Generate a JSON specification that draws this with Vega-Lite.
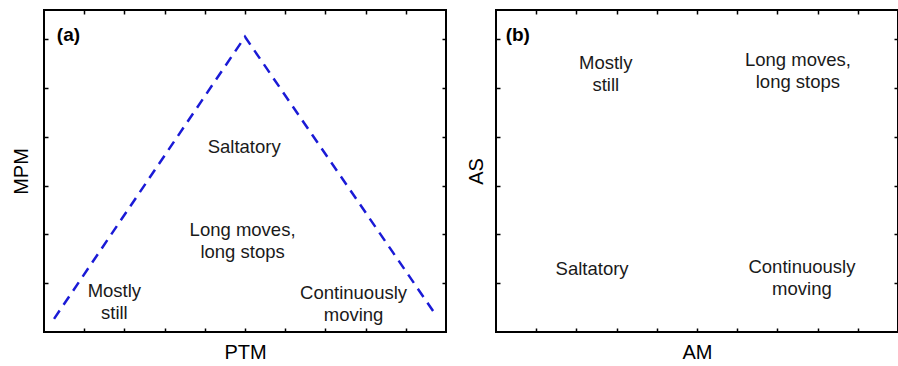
{
  "$schema": "https://vega.github.io/schema/vega-lite/v6.json",
  "padding": {"left": 10, "top": 8, "right": 2, "bottom": 2},
  "background": "white",
  "bounds": "flush",
  "spacing": 50,
  "config": {
    "view": {"stroke": "black", "strokeWidth": 2},
    "axis": {
      "labels": false,
      "domain": false,
      "grid": false,
      "tickSize": -4,
      "tickColor": "black",
      "tickWidth": 1.5,
      "titleFont": "Liberation Sans",
      "titleFontSize": 20,
      "titleFontWeight": "normal",
      "titleColor": "black"
    },
    "text": {"font": "Liberation Sans", "fontSize": 18.5, "lineHeight": 22, "lineBreak": "\n", "color": "#1a1a1a", "align": "center", "baseline": "middle"}
  },
  "datasets": {
    "lineA": [{"x": 0.25, "y": 0.27}, {"x": 5.0, "y": 6.05}, {"x": 9.73, "y": 0.37}],
    "labelsA": [
      {"x": 4.98, "y": 3.79, "t": "Saltatory"},
      {"x": 4.94, "y": 2.09, "t": "Long moves,\nlong stops"},
      {"x": 1.75, "y": 0.85, "t": "Mostly\nstill"},
      {"x": 7.70, "y": 0.80, "t": "Continuously\nmoving"}
    ],
    "tagA": [{"x": 0.32, "y": 6.09, "t": "(a)"}],
    "labelsB": [
      {"x": 2.73, "y": 5.52, "t": "Mostly\nstill"},
      {"x": 7.51, "y": 5.57, "t": "Long moves,\nlong stops"},
      {"x": 2.39, "y": 1.29, "t": "Saltatory"},
      {"x": 7.61, "y": 1.34, "t": "Continuously\nmoving"}
    ],
    "tagB": [{"x": 0.24, "y": 6.09, "t": "(b)"}]
  },
  "hconcat": [
    {
      "width": 402,
      "height": 322,
      "layer": [
        {
          "data": {"name": "lineA"},
          "mark": {"type": "line", "color": "#1a1ad6", "strokeWidth": 2.5, "strokeDash": [10, 7]},
          "encoding": {
            "x": {"field": "x", "type": "quantitative", "scale": {"domain": [0, 10], "nice": false}, "axis": {"orient": "bottom", "title": "PTM", "values": [1, 2, 3, 4, 5, 6, 7, 8, 9], "titlePadding": 10}},
            "y": {"field": "y", "type": "quantitative", "scale": {"domain": [0, 6.6], "nice": false}, "axis": {"orient": "left", "title": "MPM", "values": [1, 2, 3, 4, 5, 6], "titlePadding": 12}}
          }
        },
        {
          "data": {"name": "labelsA"},
          "mark": {"type": "text"},
          "encoding": {
            "x": {"field": "x", "type": "quantitative", "scale": {"domain": [0, 10], "nice": false}, "axis": {"orient": "top", "title": null, "values": [1, 2, 3, 4, 5, 6, 7, 8, 9]}},
            "y": {"field": "y", "type": "quantitative", "scale": {"domain": [0, 6.6], "nice": false}, "axis": {"orient": "right", "title": null, "values": [1, 2, 3, 4, 5, 6]}},
            "text": {"field": "t"}
          }
        },
        {
          "data": {"name": "tagA"},
          "mark": {"type": "text", "fontWeight": "bold", "align": "left", "fontSize": 19, "color": "black"},
          "encoding": {
            "x": {"field": "x", "type": "quantitative", "axis": null},
            "y": {"field": "y", "type": "quantitative", "axis": null},
            "text": {"field": "t"}
          }
        }
      ],
      "resolve": {"axis": {"x": "independent", "y": "independent"}}
    },
    {
      "width": 402,
      "height": 322,
      "layer": [
        {
          "data": {"name": "labelsB"},
          "mark": {"type": "text"},
          "encoding": {
            "x": {"field": "x", "type": "quantitative", "scale": {"domain": [0, 10], "nice": false}, "axis": {"orient": "bottom", "title": "AM", "values": [1, 2, 3, 4, 5, 6, 7, 8, 9], "titlePadding": 10}},
            "y": {"field": "y", "type": "quantitative", "scale": {"domain": [0, 6.6], "nice": false}, "axis": {"orient": "left", "title": "AS", "values": [1, 2, 3, 4, 5, 6], "titlePadding": 9}},
            "text": {"field": "t"}
          }
        },
        {
          "data": {"name": "tagB"},
          "mark": {"type": "text", "fontWeight": "bold", "align": "left", "fontSize": 19, "color": "black"},
          "encoding": {
            "x": {"field": "x", "type": "quantitative", "scale": {"domain": [0, 10], "nice": false}, "axis": {"orient": "top", "title": null, "values": [1, 2, 3, 4, 5, 6, 7, 8, 9]}},
            "y": {"field": "y", "type": "quantitative", "scale": {"domain": [0, 6.6], "nice": false}, "axis": {"orient": "right", "title": null, "values": [1, 2, 3, 4, 5, 6]}},
            "text": {"field": "t"}
          }
        }
      ],
      "resolve": {"axis": {"x": "independent", "y": "independent"}}
    }
  ]
}
